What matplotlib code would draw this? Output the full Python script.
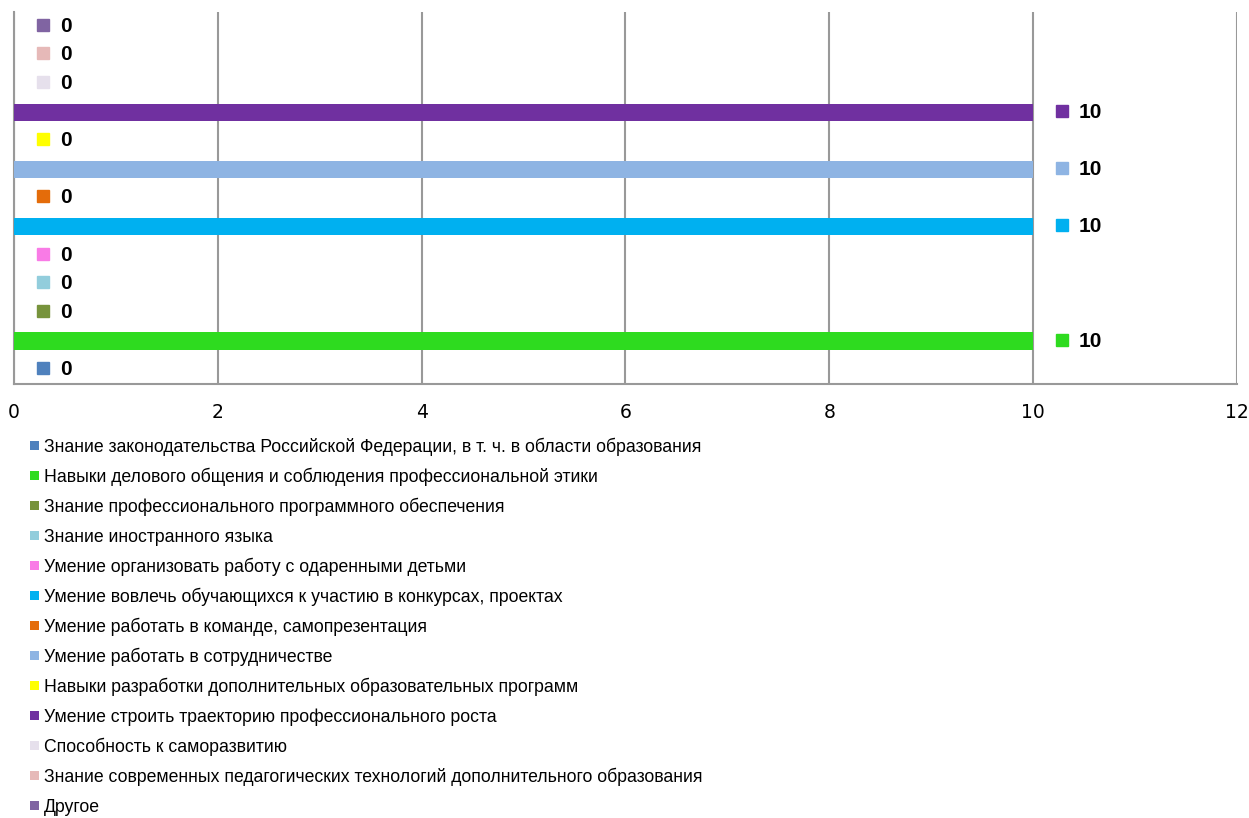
import matplotlib.pyplot as plt
from matplotlib.patches import Rectangle
from matplotlib.transforms import ScaledTranslation

plt.rcParams['font.family'] = ['Liberation Sans Narrow', 'Liberation Sans', 'DejaVu Sans']

# data
categories = [
    'Знание законодательства Российской Федерации, в т. ч. в области образования',
    'Навыки делового общения и соблюдения профессиональной этики',
    'Знание профессионального программного обеспечения',
    'Знание иностранного языка',
    'Умение организовать работу с одаренными детьми',
    'Умение вовлечь обучающихся к участию в конкурсах, проектах',
    'Умение работать в команде, самопрезентация',
    'Умение работать в сотрудничестве',
    'Навыки разработки дополнительных образовательных программ',
    'Умение строить траекторию профессионального роста',
    'Способность к саморазвитию',
    'Знание современных педагогических технологий дополнительного образования',
    'Другое',
]
values = [0, 10, 0, 0, 0, 10, 0, 10, 0, 10, 0, 0, 0]
colors = ['#4F81BD', '#2EDB1F', '#77933C', '#92CDDC', '#F97BE6', '#00B0F0',
          '#E46C0A', '#8EB4E3', '#FFFF00', '#7030A0', '#E6E0EC', '#E6B9B8', '#8064A2']
x_ticks = [0, 2, 4, 6, 8, 10, 12]

W, H = 1249, 818
fig = plt.figure(figsize=(W / 100, H / 100), dpi=100)
ax = fig.add_axes([0.0112, 0.5306, 0.9792, 0.4547])

pos = list(range(len(categories)))
ax.barh(pos, values, height=0.6, color=colors, zorder=3)

# data labels with legend keys
offset_key = ScaledTranslation(29 / 100, 1.5 / 100, fig.dpi_scale_trans)
for i, v in enumerate(values):
    ax.plot(v, i, marker='s', markersize=8.5, color=colors[i], linestyle='none',
            transform=ax.transData + offset_key, clip_on=False, zorder=4)
    ax.annotate(str(v), (v, i), xytext=(33, 0), textcoords='offset points',
                va='center', ha='left', fontsize=15, fontweight='bold')

ax.set_xlim(0, 12)
ax.set_ylim(-0.5, len(categories) - 0.5)
ax.set_xticks(x_ticks)
ax.set_xticklabels([str(t) for t in x_ticks], family=['DejaVu Sans'], fontsize=13.5)
ax.set_yticks([])
ax.tick_params(axis='x', length=0, pad=14)
ax.grid(axis='x', color='#999999', linewidth=1.5, zorder=0)
for s in ['top', 'right']:
    ax.spines[s].set_visible(False)
for s in ['left', 'bottom']:
    ax.spines[s].set_color('#999999')
    ax.spines[s].set_linewidth(1.5)

# legend below the plot, one row every 30 px
row0, step = 447, 30
for i, (name, c) in enumerate(zip(categories, colors)):
    yc = 1 - (row0 + step * i) / H
    fig.patches.append(Rectangle((30 / W, yc - 3 / H), 9 / W, 9 / H,
                                 transform=fig.transFigure, facecolor=c,
                                 edgecolor='none'))
    fig.text(44 / W, yc, name, fontsize=12.67, va='center', ha='left')

fig.savefig('out.png', dpi=100)
